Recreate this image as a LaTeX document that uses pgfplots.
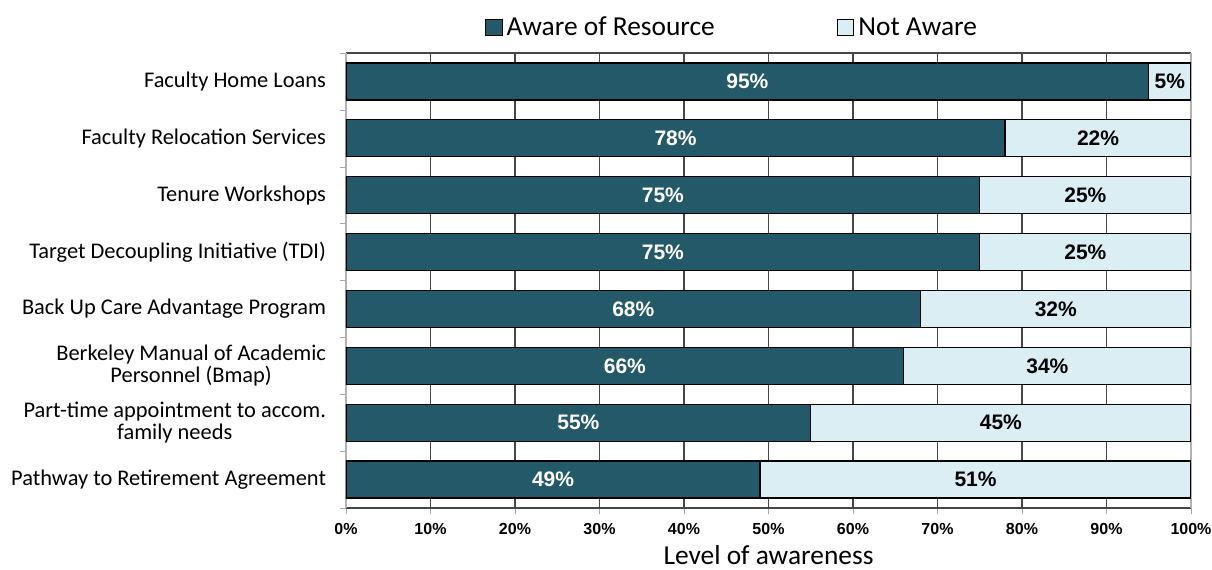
\documentclass[border=0pt]{standalone}
\usepackage{fontspec}
\setmainfont{Carlito}
\newfontfamily\arial{Liberation Sans}
\usepackage{pgfplots}
\pgfplotsset{compat=1.18}
\definecolor{aware}{RGB}{35,89,104}
\definecolor{notaware}{RGB}{219,238,244}
\definecolor{gridc}{RGB}{70,70,70}
\begin{document}
\begin{tikzpicture}
\path[use as bounding box] (-173pt,-30.5pt) rectangle (433pt,254pt);
\pgfplotsset{base/.style={at={(0,0)}, anchor=south west, scale only axis,
  width=422.5pt, height=227.5pt, xmin=0, xmax=100, ymin=-0.5, ymax=7.5, y dir=reverse}}
\begin{axis}[base, xbar stacked, bar width=18.5pt,
  separate axis lines,
  x axis line style={gridc, line width=0.6pt},
  y axis line style={gray!60, line width=1pt},
  xtick={0,10,...,100},
  xticklabels={0\%,10\%,20\%,30\%,40\%,50\%,60\%,70\%,80\%,90\%,100\%},
  xticklabel style={font=\arial\bfseries\fontsize{8}{9.6}\selectfont, yshift=-1pt},
  ytick={0,...,7},
  yticklabels={Faculty Home Loans, Faculty Relocation Services, Tenure Workshops,
    Target Decoupling Initiative (TDI), Back Up Care Advantage Program,
    {Berkeley Manual of Academic\\Personnel (Bmap)},
    {Part-time appointment to accom.\\family needs},
    Pathway to Retirement Agreement},
  yticklabel style={font=\fontsize{11.2}{11}\selectfont, align=center, xshift=-3.5pt},
  minor ytick={-0.5,0.5,...,7.5},
  major tick length=3pt, minor tick length=3pt,
  every major y tick/.style={draw=none},
  tick style={gray!70}, tick align=outside, tick pos=left,
  xmajorgrids, major grid style={gridc, line width=0.6pt},
  xlabel={Level of awareness},
  every axis x label/.style={at={(axis description cs:0.5,0)}, yshift=-28pt, anchor=base,
    font=\fontsize{13.7}{16}\selectfont},
  legend style={at={(0.458,1.055)}, anchor=center, draw=none, fill=none,
    legend columns=2, font=\fontsize{13.7}{16}\selectfont,
    /tikz/every even column/.append style={column sep=59pt}},
  legend image code/.code={\draw[#1, draw=black, line width=0.5pt] (0pt,-3.6pt) rectangle (8.3pt,4.4pt);},
]
\addplot[fill=aware, draw=black, line width=0.6pt] coordinates
  {(95,0) (78,1) (75,2) (75,3) (68,4) (66,5) (55,6) (49,7)};
\addlegendentry{Aware of Resource}
\addplot[fill=notaware, draw=black, line width=0.6pt] coordinates
  {(5,0) (22,1) (25,2) (25,3) (32,4) (34,5) (45,6) (51,7)};
\addlegendentry{Not Aware}
\end{axis}
\begin{axis}[base, hide axis]
\addplot[only marks, mark=*, mark size=0pt, mark options={draw=none, fill=none}, nodes near coords,
  point meta=explicit, /pgf/number format/assume math mode=true,
  nodes near coords={\pgfmathprintnumber{\pgfplotspointmeta}\%},
  every node near coord/.style={anchor=center, text=white, font=\arial\bfseries\fontsize{10.5}{12}\selectfont}]
  table[meta=v] {
x y v
47.5 0 95
39 1 78
37.5 2 75
37.5 3 75
34 4 68
33 5 66
27.5 6 55
24.5 7 49
};
\addplot[only marks, mark=*, mark size=0pt, mark options={draw=none, fill=none}, nodes near coords,
  point meta=explicit, /pgf/number format/assume math mode=true,
  nodes near coords={\pgfmathprintnumber{\pgfplotspointmeta}\%},
  every node near coord/.style={anchor=center, text=black, font=\arial\bfseries\fontsize{10.5}{12}\selectfont}]
  table[meta=v] {
x y v
97.5 0 5
89 1 22
87.5 2 25
87.5 3 25
84 4 32
83 5 34
77.5 6 45
74.5 7 51
};
\end{axis}
\end{tikzpicture}
\end{document}
